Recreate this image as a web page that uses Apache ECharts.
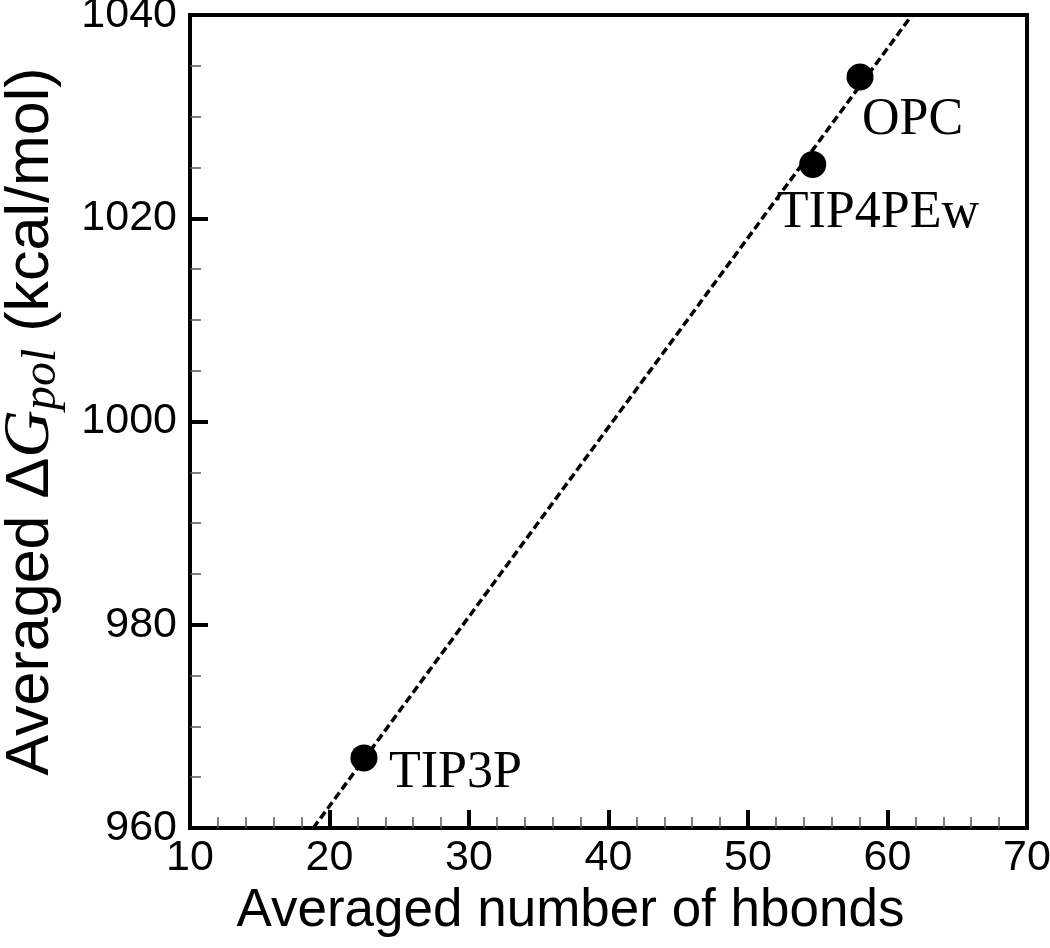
<!DOCTYPE html>
<html>
<head>
<meta charset="utf-8">
<script src="https://cdn.jsdelivr.net/npm/echarts@6/dist/echarts.min.js"></script>
<style>html,body{margin:0;padding:0;background:#fff;}#c{width:1050px;height:948px;}</style>
</head>
<body>
<div id="c"></div>
<script>
// Data
const modelNames = ['TIP3P', 'TIP4PEw', 'OPC'];
const hbonds = [22.47, 54.64, 58.03];
const dGpol = [966.9, 1025.3, 1033.9];
// Dashed fit line end points
const fitX = [18.84, 61.76];
const fitY = [960, 1040];
const xTicks = [10, 20, 30, 40, 50, 60, 70];
const yTicks = [960, 980, 1000, 1020, 1040];

const labelOffsets = { 'TIP3P': [25, 15], 'TIP4PEw': [-36, 49], 'OPC': [2, 43] };

const chart = echarts.init(document.getElementById('c'), null, { renderer: 'canvas' });
const sans = '"Liberation Sans", Arial, sans-serif';
const serif = '"Liberation Serif", "Times New Roman", serif';

const option = {
  backgroundColor: '#fff',
  animation: false,
  grid: { left: 190, right: 23, top: 15, bottom: 120, containLabel: false, outerBoundsMode: 'none',
          show: true, borderColor: '#000', borderWidth: 4, backgroundColor: 'transparent' },
  xAxis: {
    type: 'value', min: xTicks[0], max: xTicks[xTicks.length - 1], interval: 10,
    name: 'Averaged number of hbonds', nameLocation: 'middle', nameGap: 50,
    nameTextStyle: { fontFamily: sans, fontSize: 53, color: '#000', padding: [0, 76, 0, 0] },
    axisLine: { show: true, lineStyle: { color: '#000', width: 4 } },
    axisTick: { show: true, inside: true, length: 18, lineStyle: { color: '#000', width: 4 } },
    minorTick: { show: true, splitNumber: 5, length: 11, lineStyle: { color: '#555', width: 1.5 } },
    axisLabel: { fontFamily: sans, fontSize: 43, color: '#000', margin: 9, formatter: v => String(v) },
    splitLine: { show: false }
  },
  yAxis: {
    type: 'value', min: yTicks[0], max: yTicks[yTicks.length - 1], interval: 20,
    name: '{a|Averaged Δ}{g|G}{s|pol}{a| (kcal/mol)}', nameLocation: 'middle', nameGap: 124, nameRotate: 90,
    nameTextStyle: {
      rich: {
        a: { fontFamily: sans, fontSize: 61, color: '#000', lineHeight: 70 },
        g: { fontFamily: serif, fontStyle: 'italic', fontSize: 66, color: '#000', lineHeight: 70 },
        s: { fontFamily: serif, fontStyle: 'italic', fontSize: 48, color: '#000', lineHeight: 70, verticalAlign: 'bottom', padding: [24, 0, 0, 0] }
      }
    },
    axisLine: { show: true, lineStyle: { color: '#000', width: 4 } },
    axisTick: { show: true, inside: true, length: 18, lineStyle: { color: '#000', width: 4 } },
    minorTick: { show: true, splitNumber: 4, length: 11, lineStyle: { color: '#555', width: 1.5 } },
    axisLabel: { fontFamily: sans, fontSize: 43, color: '#000', margin: 13, formatter: v => String(v) },
    splitLine: { show: false }
  },
  series: [
    {
      type: 'line',
      data: fitX.map((x, i) => [x, fitY[i]]),
      showSymbol: false, symbol: 'none',
      lineStyle: { color: '#000', width: 3.5, type: [8, 4] },
      z: 2
    },
    {
      type: 'scatter',
      symbol: 'circle', symbolSize: 27,
      itemStyle: { color: '#000', opacity: 1 },
      data: modelNames.map((n, i) => ({
        value: [hbonds[i], dGpol[i]], name: n,
        label: {
          show: true, formatter: n, position: 'inside', align: 'left', verticalAlign: 'middle',
          offset: labelOffsets[n], fontFamily: serif, fontSize: 52, color: '#000', opacity: 1
        }
      })),
      z: 3
    }
  ]
};
chart.setOption(option);
</script>
</body>
</html>
